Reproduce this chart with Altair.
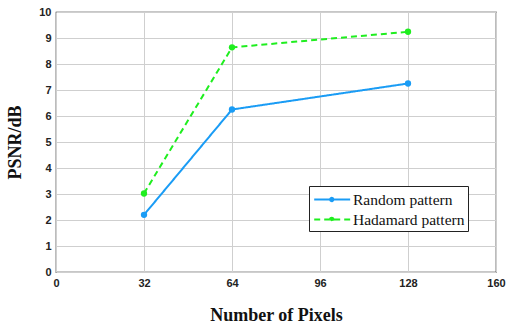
import altair as alt
import pandas as pd

pixels = [32, 64, 128]
random_psnr = [2.2, 6.25, 7.25]
hadamard_psnr = [3.02, 8.64, 9.24]
series_names = ["Random pattern", "Hadamard pattern"]
x_ticks = [0, 32, 64, 96, 128, 160]
y_ticks = list(range(0, 11))

rows = []
for p, v in zip(pixels, random_psnr):
    rows.append({"pixels": p, "psnr": v, "series": series_names[0]})
for p, v in zip(pixels, hadamard_psnr):
    rows.append({"pixels": p, "psnr": v, "series": series_names[1]})
df = pd.DataFrame(rows)

colors = ["#1a9cf5", "#1fee1f"]

x = alt.X("pixels:Q", scale=alt.Scale(domain=[0, 160], nice=False),
          axis=alt.Axis(values=x_ticks, title="Number of Pixels", titlePadding=18))
y = alt.Y("psnr:Q", scale=alt.Scale(domain=[0, 10], nice=False),
          axis=alt.Axis(values=y_ticks, title="PSNR/dB", titlePadding=14))
legend_symbol = "M-0.9,0H3M0.82,0A0.18,0.18,0,1,1,1.18,0A0.18,0.18,0,1,1,0.82,0"
color = alt.Color("series:N", scale=alt.Scale(domain=series_names, range=colors),
                  legend=alt.Legend(title=None, orient="none", legendX=253, legendY=174,
                                    symbolType=legend_symbol, symbolSize=340, symbolStrokeWidth=2,
                                    labelFont="Liberation Serif", labelFontSize=15.5,
                                    labelColor="#111", fillColor="white", strokeColor="#222",
                                    padding=3, rowPadding=1, labelOffset=20, offset=0))
dash = alt.StrokeDash("series:N", scale=alt.Scale(domain=series_names, range=[[1, 0], [6, 4]]),
                      legend=None)

lines = alt.Chart(df).mark_line(strokeWidth=2).encode(x=x, y=y, color=color, strokeDash=dash)
points = alt.Chart(df).mark_point(filled=True, size=40, opacity=1).encode(
    x=x, y=y,
    color=alt.Color("series:N", scale=alt.Scale(domain=series_names, range=colors), legend=None))

chart = (lines + points).properties(
    width=440, height=260,
    autosize=alt.AutoSizeParams(type="none"),
    padding={"left": 56, "top": 12, "right": 16, "bottom": 52},
    background="white",
).configure_view(stroke="#222", strokeWidth=1.2).configure_axis(
    grid=True, gridColor="#cfcfcf", gridWidth=1,
    domain=False, ticks=False, labelOverlap=False, labelBound=False, labelFlush=False,
    labelFont="Liberation Sans", labelFontWeight="bold", labelFontSize=11, labelColor="#222",
    titleFont="Liberation Serif", titleFontWeight="bold", titleFontSize=18, titleColor="#111",
    labelPadding=5,
)

chart.save("out.html", embed_options={"renderer": "svg", "actions": False})
